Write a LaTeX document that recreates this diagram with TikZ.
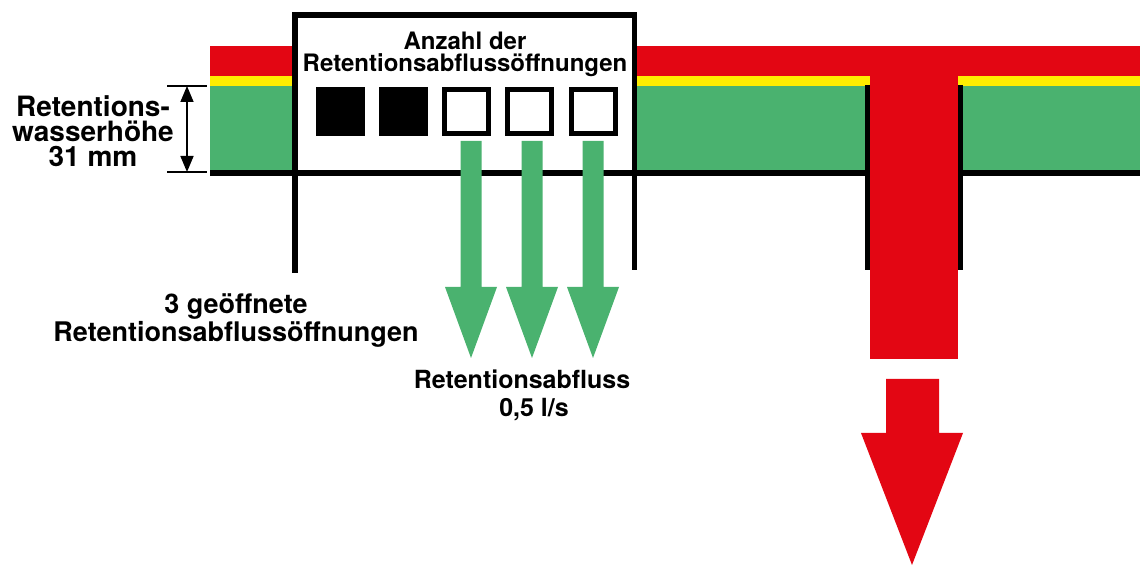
\documentclass[tikz,border=0pt]{standalone}
\usepackage{fontspec}
\setmainfont{TeX Gyre Heros}
\usetikzlibrary{arrows.meta}
\definecolor{retred}{RGB}{227,6,19}
\definecolor{retyellow}{RGB}{255,237,0}
\definecolor{retgreen}{RGB}{74,178,111}

\begin{document}
\begin{tikzpicture}[x=0.5pt, y=-0.5pt,
    wall/.style={line width=2.75pt},
    lbl/.style 2 args={align=center, inner sep=0pt, font=\fontsize{#1}{#2}\selectfont\bfseries}]
    \useasboundingbox (0,0) rectangle (1140,565);

    % Layers left of the box
    \fill[retred] (210,46) rectangle (295,76);
    \fill[retyellow] (210,76) rectangle (295,86);
    \fill[retgreen] (210,86) rectangle (295,171);

    % Layers right of the box
    \fill[retred] (634,46) rectangle (1140,76);
    \fill[retyellow] (634,76) rectangle (870,86);
    \fill[retyellow] (958,76) rectangle (1140,86);
    \fill[retgreen] (634,86) rectangle (868,171);
    \fill[retgreen] (960,86) rectangle (1140,171);

    % Box
    \fill[white] (295,15) rectangle (634,173);
    \draw[wall] (295,273) -- (295,15) -- (634.5,15) -- (634.5,270);
    \node[lbl={12}{11}] (anzahl) at (465,54) {Anzahl der\\Retentionsabflussöffnungen};

    % Openings
    \foreach \x in {340,403}
        \fill (\x-24.5,87) rectangle (\x+24.5,136);
    \foreach \x in {466.5,529.5,593.5}
        \draw[line width=2.5pt] (\x-22,89.5) rectangle (\x+22,133.5);

    % Bottom line
    \draw[line width=2.75pt] (210,173) -- (868,173);
    \draw[line width=2.75pt] (960,173) -- (1140,173);

    % Drain
    \fill[retred] (870,46) rectangle (958,359);
    \draw[wall] (867.5,85) -- (867.5,270);
    \draw[wall] (960.5,85) -- (960.5,270);

    % Retention outflow
    \foreach \x in {471,532,593}
        \fill[retgreen] (\x-10.5,141) -- (\x+10.5,141) -- (\x+10.5,287) -- (\x+26,287)
            -- (\x,358) -- (\x-26,287) -- (\x-10.5,287) -- cycle;

    % Main outflow
    \fill[retred] (886,379) -- (939,379) -- (939,433) -- (963,433) -- (912,565)
        -- (861,433) -- (886,433) -- cycle;

    % Retention height
    \coordinate (dimtop) at (187,86);
    \coordinate (dimbot) at (187,172);
    \draw[line width=0.6pt] (167,86) -- (207,86);
    \draw[line width=0.6pt] (167,172) -- (207,172);
    \draw[line width=0.8pt, {Triangle[length=8pt,width=6.5pt]}-{Triangle[length=8pt,width=6.5pt]}] (dimtop) -- (dimbot);
    \node[lbl={14}{12.5}] (hoehe) at (93,131) {Retentions-\\wasserhöhe\\31 mm};

    % Labels
    \node[lbl={13.5}{11.5}] (offen) at (236,321) {3 geöffnete\\Retentionsabflussöffnungen};
    \node[lbl={12.5}{14}] (abfluss) at (522,395) {Retentionsabfluss\\\hspace*{12pt}0,5 l/s};
\end{tikzpicture}
\end{document}
